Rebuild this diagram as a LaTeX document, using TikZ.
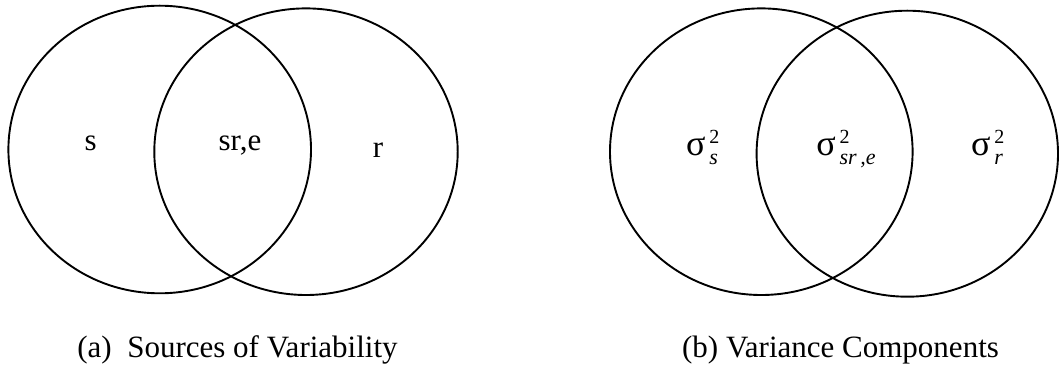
\documentclass[tikz,border=0pt]{standalone}
\usepackage{fontspec}
\setmainfont{Liberation Serif}
\usepackage{tikz}
\usetikzlibrary{positioning}
\newcommand{\sigvar}[1]{{\fontsize{36}{40}\selectfont σ}\hspace{4pt}%
  \makebox[0pt][l]{\raisebox{12pt}{\fontsize{20}{22}\selectfont 2}}%
  \raisebox{-9pt}{\fontsize{22}{24}\selectfont\itshape #1}}

\begin{document}
\begin{tikzpicture}[x=1pt,y=-1pt,
    ring/.style={line width=1.9pt},
    lbl/.style={inner sep=0pt,anchor=base,font=\fontsize{31}{37}\selectfont}]
    \useasboundingbox (0,0) rectangle (1060,371);

    % (a) sources of variability
    \draw[ring] (159.7,149.5) ellipse [x radius=151.3,y radius=143.8];
    \draw[ring] (306,151.7) ellipse [x radius=151.7,y radius=143.3];
    \node[lbl] (srcS) at (90.7,150.7) {s};
    \node[lbl] (srcSRE) at (240,150.7) {sr,e};
    \node[lbl] (srcR) at (378,158) {r};

    % (b) variance components
    \draw[ring] (761.3,151.7) ellipse [x radius=151.3,y radius=143.3];
    \draw[ring] (907.3,153.7) ellipse [x radius=150.7,y radius=143];
    \node[lbl] (varS) at (702,156) {\sigvar{s}};
    \node[lbl] (varSRE) at (846,156) {\sigvar{sr\,,e}};
    \node[lbl] (varR) at (990,156) {\sigvar{r\hspace{6pt}}};

    % captions
    \node[lbl] (capA) at (237.5,357) {(a)~~Sources of Variability};
    \node[lbl] (capB) at (840.5,357) {(b) Variance Components};
\end{tikzpicture}
\end{document}
